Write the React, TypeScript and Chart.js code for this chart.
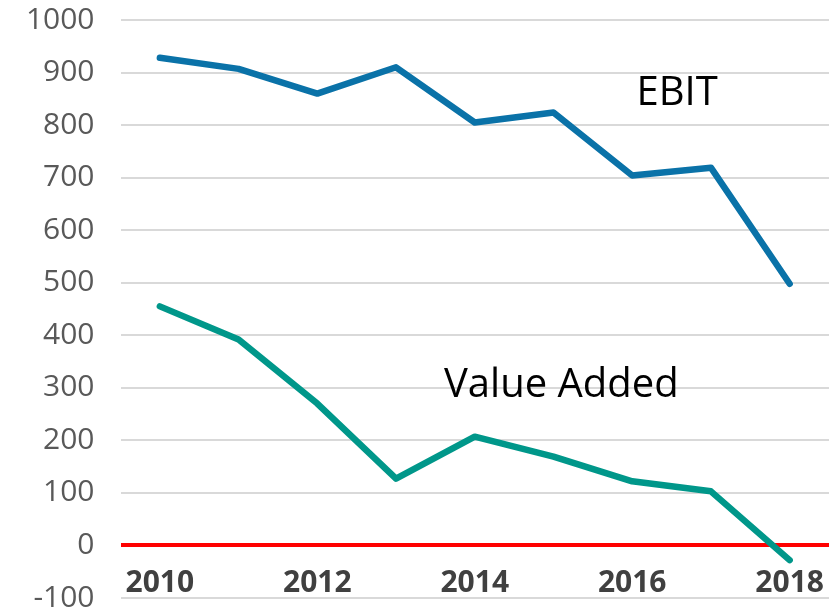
import React, { useEffect, useRef } from "react";
import { Chart, registerables } from "chart.js";

Chart.register(...registerables);

const years = ["2010", "2011", "2012", "2013", "2014", "2015", "2016", "2017", "2018"];
const ebit = [928, 907, 860, 910, 805, 824, 704, 719, 498];
const valueAdded = [455, 392, 270, 127, 207, 169, 122, 103, -28];
const yTicks = { min: -100, max: 1000, step: 100 };
const seriesLabels = ["EBIT", "Value Added"];
// label anchors in data units: [category index, value]
const labelAnchors = [
  [6.57, 864],
  [5.1, 308],
];

const seriesLabelPlugin = {
  id: "seriesLabels",
  afterDatasetsDraw(chart: any) {
    const { ctx, scales } = chart;
    ctx.save();
    ctx.font = "40px 'Open Sans'";
    ctx.fillStyle = "#000000";
    ctx.textAlign = "center";
    ctx.textBaseline = "middle";
    seriesLabels.forEach((t, i) => {
      const [xi, yv] = labelAnchors[i];
      ctx.fillText(t, scales.x.getPixelForValue(xi), scales.y.getPixelForValue(yv) + 2);
    });
    ctx.restore();
  },
};

export default function App() {
  const ref = useRef<HTMLCanvasElement>(null);
  useEffect(() => {
    document.body.style.margin = "0";
    const chart = new Chart(ref.current as HTMLCanvasElement, {
      type: "line",
      data: {
        labels: years,
        datasets: [
          {
            label: seriesLabels[0],
            data: ebit,
            borderColor: "#0A72A8",
            borderWidth: 6.5,
            pointRadius: 0,
            borderCapStyle: "round",
            borderJoinStyle: "round",
            tension: 0,
          },
          {
            label: seriesLabels[1],
            data: valueAdded,
            borderColor: "#00978A",
            borderWidth: 6.5,
            pointRadius: 0,
            borderCapStyle: "round",
            borderJoinStyle: "round",
            tension: 0,
          },
        ],
      },
      options: {
        animation: false,
        responsive: false,
        layout: { padding: { top: 20, bottom: 9, right: 10, left: 0 } },
        plugins: { legend: { display: false }, tooltip: { enabled: false } },
        scales: {
          x: {
            position: { y: -38 } as any,
            offset: true,
            afterFit: (s: any) => {
              s.height = 0;
              s.paddingTop = 0;
              s.paddingBottom = 0;
            },
            grid: { display: false, drawTicks: false },
            border: { display: false },
            ticks: {
              autoSkip: false,
              maxRotation: 0,
              padding: 0,
              color: "#404040",
              font: { family: "'Open Sans'", size: 30, weight: "bold" },
              callback: (_v: any, i: number) => (i % 2 === 0 ? years[i] : ""),
            },
          },
          y: {
            min: yTicks.min,
            max: yTicks.max,
            afterFit: (s: any) => {
              s.width = 120.5;
              s.paddingTop = 0;
              s.paddingBottom = 0;
            },
            grid: {
              drawTicks: false,
              color: (c: any) => (c.tick && c.tick.value === 0 ? "#FF0000" : "#D9D9D9"),
              lineWidth: (c: any) => (c.tick && c.tick.value === 0 ? 4 : 2),
            },
            border: { display: false },
            ticks: {
              stepSize: yTicks.step,
              padding: 26,
              color: "#595959",
              font: { family: "'Open Sans'", size: 30 },
              callback: (v: any) => String(v),
            },
          },
        },
      },
      plugins: [seriesLabelPlugin],
    });
    return () => chart.destroy();
  }, []);
  return (
    <div style={{ position: "fixed", left: 0, top: 0, width: 839, height: 607 }}>
      <canvas ref={ref} width={839} height={607} style={{ width: 839, height: 607 }} />
    </div>
  );
}
